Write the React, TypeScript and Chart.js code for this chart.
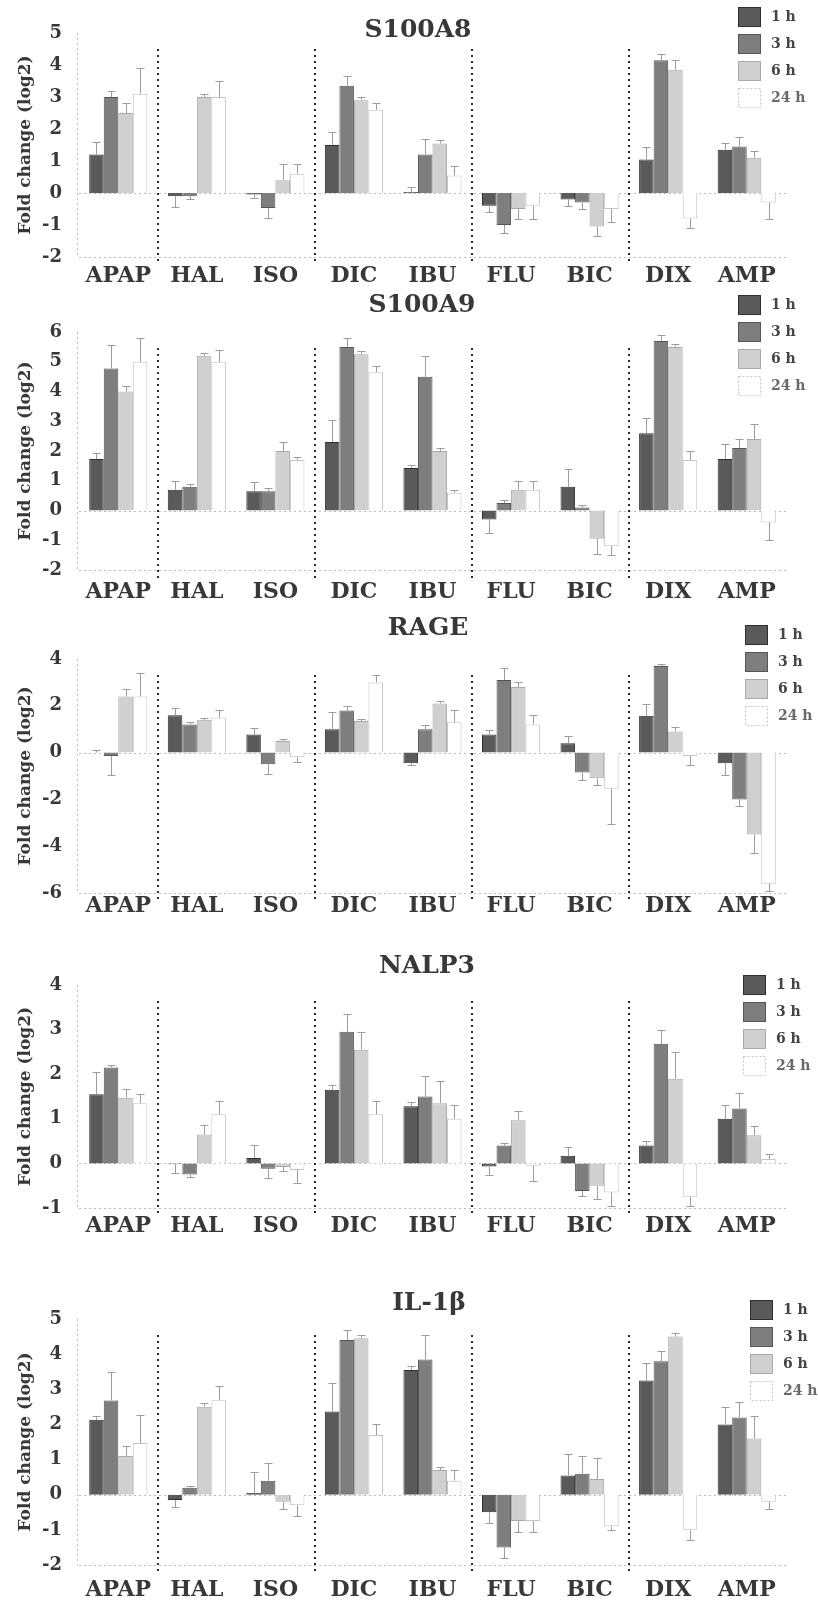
import React, { useEffect, useRef } from 'react';
import { Chart, registerables } from 'chart.js';

Chart.register(...registerables);

// ---------- data ----------
const CATEGORIES = ['APAP', 'HAL', 'ISO', 'DIC', 'IBU', 'FLU', 'BIC', 'DIX', 'AMP'];
const SERIES_LABELS = ['1 h', '3 h', '6 h', '24 h'];
const Y_TITLE = 'Fold change (log2)';

// S100A8
const a8_1h = [1.2, -0.1, -0.05, 1.5, 0.03, -0.4, -0.2, 1.05, 1.35];
const a8_3h = [3.0, -0.1, -0.47, 3.35, 1.2, -1.0, -0.3, 4.15, 1.45];
const a8_6h = [2.5, 3.0, 0.4, 2.9, 1.55, -0.5, -1.05, 3.85, 1.1];
const a8_24h = [3.1, 3.0, 0.6, 2.6, 0.55, -0.4, -0.5, -0.8, -0.3];
const a8_1hErr = [0.4, 0.35, 0.1, 0.4, 0.15, 0.2, 0.2, 0.4, 0.2];
const a8_3hErr = [0.2, 0.1, 0.3, 0.3, 0.5, 0.25, 0.2, 0.2, 0.3];
const a8_6hErr = [0.3, 0.1, 0.5, 0.1, 0.1, 0.3, 0.3, 0.3, 0.2];
const a8_24hErr = [0.8, 0.5, 0.3, 0.2, 0.3, 0.4, 0.4, 0.3, 0.5];

// S100A9
const a9_1h = [1.73, 0.7, 0.65, 2.3, 1.43, -0.3, 0.8, 2.6, 1.73];
const a9_3h = [4.77, 0.8, 0.65, 5.5, 4.5, 0.25, 0.1, 5.7, 2.1];
const a9_6h = [4.0, 5.2, 2.0, 5.25, 2.0, 0.7, -0.95, 5.5, 2.4];
const a9_24h = [5.0, 5.0, 1.7, 4.65, 0.6, 0.7, -1.2, 1.7, -0.4];
const a9_1hErr = [0.2, 0.3, 0.3, 0.75, 0.1, 0.45, 0.6, 0.5, 0.5];
const a9_3hErr = [0.8, 0.1, 0.1, 0.3, 0.7, 0.1, 0.1, 0.2, 0.3];
const a9_6hErr = [0.2, 0.1, 0.3, 0.1, 0.1, 0.3, 0.5, 0.1, 0.5];
const a9_24hErr = [0.8, 0.4, 0.1, 0.2, 0.1, 0.3, 0.3, 0.3, 0.6];

// RAGE
const rage_1h = [0.0, 1.6, 0.77, 1.0, -0.45, 0.77, 0.4, 1.57, -0.45];
const rage_3h = [-0.15, 1.2, -0.5, 1.8, 1.0, 3.1, -0.85, 3.7, -2.0];
const rage_6h = [2.4, 1.4, 0.5, 1.35, 2.1, 2.8, -1.1, 0.9, -3.5];
const rage_24h = [2.4, 1.5, -0.2, 3.0, 1.3, 1.2, -1.55, -0.15, -5.6];
const rage_1hErr = [0.1, 0.3, 0.3, 0.75, 0.1, 0.2, 0.3, 0.5, 0.5];
const rage_3hErr = [0.8, 0.1, 0.4, 0.2, 0.2, 0.5, 0.3, 0.1, 0.3];
const rage_6hErr = [0.3, 0.1, 0.1, 0.1, 0.1, 0.2, 0.3, 0.2, 0.8];
const rage_24hErr = [1.0, 0.3, 0.2, 0.3, 0.5, 0.4, 1.5, 0.4, 0.3];

// NALP3
const nalp_1h = [1.55, -0.02, 0.12, 1.65, 1.28, -0.07, 0.17, 0.4, 1.0];
const nalp_3h = [2.15, -0.25, -0.12, 2.95, 1.5, 0.4, -0.62, 2.68, 1.23];
const nalp_6h = [1.47, 0.65, -0.08, 2.55, 1.35, 0.97, -0.5, 1.9, 0.63];
const nalp_24h = [1.35, 1.1, -0.15, 1.1, 1.0, -0.05, -0.65, -0.75, 0.1];
const nalp_1hErr = [0.5, 0.2, 0.3, 0.1, 0.1, 0.2, 0.2, 0.1, 0.3];
const nalp_3hErr = [0.05, 0.05, 0.2, 0.4, 0.45, 0.05, 0.1, 0.3, 0.35];
const nalp_6hErr = [0.2, 0.2, 0.1, 0.4, 0.5, 0.2, 0.3, 0.6, 0.2];
const nalp_24hErr = [0.2, 0.3, 0.3, 0.3, 0.3, 0.35, 0.3, 0.2, 0.1];

// IL-1β
const il_1h = [2.13, -0.15, 0.05, 2.37, 3.55, -0.5, 0.55, 3.25, 2.0];
const il_3h = [2.68, 0.2, 0.4, 4.4, 3.85, -1.5, 0.6, 3.8, 2.2];
const il_6h = [1.1, 2.5, -0.2, 4.45, 0.7, -0.75, 0.45, 4.5, 1.6];
const il_24h = [1.47, 2.7, -0.3, 1.7, 0.4, -0.75, -0.9, -1.0, -0.2];
const il_1hErr = [0.1, 0.2, 0.6, 0.8, 0.1, 0.3, 0.6, 0.5, 0.5];
const il_3hErr = [0.8, 0.05, 0.5, 0.3, 0.7, 0.3, 0.5, 0.3, 0.45];
const il_6hErr = [0.3, 0.1, 0.2, 0.1, 0.1, 0.3, 0.6, 0.1, 0.65];
const il_24hErr = [0.8, 0.4, 0.3, 0.3, 0.3, 0.3, 0.1, 0.3, 0.2];

// ---------- styles / layout ----------
const FONT = "'DejaVu Serif', 'Liberation Serif', serif";
const TEXT = '#383838';
const FILLS = ['#5a5a5a', '#7e7e7e', '#d0d0d0', '#ffffff'];
const BORDERS = ['#2e2e2e', '#555555', '#a8a8a8', '#c4c4c4'];
const SEPARATOR_AFTER = [0, 2, 4, 6];

type PanelCfg = {
  title: string;
  top: number; height: number;
  chartTop: number; chartBottom: number;
  min: number; max: number; step: number;
  labelPad: number;
  titleX: number; titleY: number;
  legendX: number; legendY: number;
  series: number[][]; errors: number[][];
};

const PANELS: PanelCfg[] = [
  { title: 'S100A8', top: 0, height: 288, chartTop: 33, chartBottom: 257, min: -2, max: 5, step: 1, labelPad: 6,
    titleX: 418, titleY: 30, legendX: 738, legendY: 7,
    series: [a8_1h, a8_3h, a8_6h, a8_24h], errors: [a8_1hErr, a8_3hErr, a8_6hErr, a8_24hErr] },
  { title: 'S100A9', top: 288, height: 324, chartTop: 332, chartBottom: 570, min: -2, max: 6, step: 1, labelPad: 9,
    titleX: 422, titleY: 305, legendX: 738, legendY: 295,
    series: [a9_1h, a9_3h, a9_6h, a9_24h], errors: [a9_1hErr, a9_3hErr, a9_6hErr, a9_24hErr] },
  { title: 'RAGE', top: 612, height: 330, chartTop: 659, chartBottom: 893, min: -6, max: 4, step: 2, labelPad: 0,
    titleX: 428, titleY: 628, legendX: 745, legendY: 625,
    series: [rage_1h, rage_3h, rage_6h, rage_24h], errors: [rage_1hErr, rage_3hErr, rage_6hErr, rage_24hErr] },
  { title: 'NALP3', top: 942, height: 343, chartTop: 985, chartBottom: 1208, min: -1, max: 4, step: 1, labelPad: 5,
    titleX: 427, titleY: 966, legendX: 743, legendY: 975,
    series: [nalp_1h, nalp_3h, nalp_6h, nalp_24h], errors: [nalp_1hErr, nalp_3hErr, nalp_6hErr, nalp_24hErr] },
  { title: 'IL-1β', top: 1285, height: 320, chartTop: 1319, chartBottom: 1565, min: -2, max: 5, step: 1, labelPad: 12,
    titleX: 429, titleY: 1303, legendX: 750, legendY: 1300,
    series: [il_1h, il_3h, il_6h, il_24h], errors: [il_1hErr, il_3hErr, il_6hErr, il_24hErr] },
];

function makeOverlay(p: PanelCfg) {
  return {
    id: 'overlay',
    beforeDatasetsDraw(chart: any) {
      const { ctx, chartArea } = chart;
      const y = chart.scales.y;
      ctx.save();
      ctx.strokeStyle = '#bcbcbc';
      ctx.lineWidth = 1;
      ctx.setLineDash([2, 3]);
      for (const v of [0, p.min]) {
        const py = Math.round(y.getPixelForValue(v)) + 0.5;
        ctx.beginPath();
        ctx.moveTo(chartArea.left, py);
        ctx.lineTo(chartArea.right, py);
        ctx.stroke();
      }
      ctx.beginPath();
      ctx.moveTo(chartArea.left - 1.5, chartArea.top);
      ctx.lineTo(chartArea.left - 1.5, chartArea.bottom);
      ctx.stroke();
      ctx.restore();
    },
    afterDatasetsDraw(chart: any) {
      const { ctx, chartArea } = chart;
      const y = chart.scales.y;
      const x = chart.scales.x;
      ctx.save();
      ctx.strokeStyle = '#9c9c9c';
      ctx.lineWidth = 1;
      ctx.setLineDash([]);
      chart.data.datasets.forEach((ds: any, di: number) => {
        const meta = chart.getDatasetMeta(di);
        meta.data.forEach((bar: any, i: number) => {
          const v = ds.data[i];
          const e = p.errors[di][i];
          const end = v >= 0 ? v + e : v - e;
          const py0 = y.getPixelForValue(v);
          const py1 = Math.round(y.getPixelForValue(end)) + 0.5;
          const bx = Math.round(bar.x) + 0.5;
          ctx.beginPath();
          ctx.moveTo(bx, py0);
          ctx.lineTo(bx, py1);
          ctx.moveTo(bx - 4, py1);
          ctx.lineTo(bx + 4, py1);
          ctx.stroke();
        });
      });
      ctx.strokeStyle = '#2a2a2a';
      ctx.lineWidth = 2;
      ctx.setLineDash([2, 4]);
      for (const k of SEPARATOR_AFTER) {
        const xp = Math.round((x.getPixelForValue(k) + x.getPixelForValue(k + 1)) / 2);
        ctx.beginPath();
        ctx.moveTo(xp, chartArea.top + 16);
        ctx.lineTo(xp, chartArea.bottom + 8);
        ctx.stroke();
      }
      ctx.restore();
    },
    afterDraw(chart: any) {
      const { ctx, chartArea } = chart;
      ctx.save();
      ctx.fillStyle = TEXT;
      ctx.font = `bold 25px ${FONT}`;
      ctx.textAlign = 'center';
      ctx.textBaseline = 'middle';
      ctx.fillText(p.title, p.titleX, p.titleY - p.top);
      ctx.save();
      ctx.translate(26, (chartArea.top + chartArea.bottom) / 2);
      ctx.rotate(-Math.PI / 2);
      ctx.font = `bold 17px ${FONT}`;
      ctx.fillText(Y_TITLE, 0, 0);
      ctx.restore();
      ctx.font = `bold 14px ${FONT}`;
      ctx.textAlign = 'left';
      SERIES_LABELS.forEach((lab, i) => {
        const bx = p.legendX;
        const by = p.legendY - p.top + i * 27;
        ctx.fillStyle = FILLS[i];
        ctx.fillRect(bx, by, 23, 20);
        ctx.strokeStyle = BORDERS[i];
        ctx.lineWidth = 1;
        if (i === 3) ctx.setLineDash([2, 2]); else ctx.setLineDash([]);
        ctx.strokeRect(bx + 0.5, by + 0.5, 22, 19);
        ctx.setLineDash([]);
        ctx.fillStyle = i === 3 ? '#6a6a6a' : '#444';
        ctx.fillText(lab, bx + 33, by + 10);
      });
      ctx.restore();
    },
  };
}

function Panel({ p }: { p: PanelCfg }) {
  const ref = useRef<HTMLCanvasElement | null>(null);
  useEffect(() => {
    if (!ref.current) return;
    const chart = new Chart(ref.current, {
      type: 'bar',
      data: {
        labels: CATEGORIES,
        datasets: p.series.map((d, i) => ({
          label: SERIES_LABELS[i],
          data: d,
          backgroundColor: FILLS[i],
          borderColor: BORDERS[i],
          borderWidth: 1,
          categoryPercentage: 0.74,
          barPercentage: 1.0,
        })),
      },
      options: {
        animation: false,
        responsive: false,
        events: [],
        layout: { padding: { top: p.chartTop - p.top, right: 32, left: 0, bottom: 0 } },
        plugins: { legend: { display: false }, title: { display: false }, tooltip: { enabled: false } },
        scales: {
          x: {
            grid: { display: false, drawTicks: false },
            border: { display: false },
            ticks: { font: { family: FONT, size: 22, weight: 'bold' }, color: TEXT, padding: p.labelPad, maxRotation: 0, autoSkip: false },
            afterFit: (s: any) => { s.height = p.top + p.height - p.chartBottom; },
          },
          y: {
            min: p.min,
            max: p.max,
            ticks: { stepSize: p.step, font: { family: FONT, size: 18, weight: 'bold' }, color: TEXT, padding: 17 },
            grid: { display: false, drawTicks: false },
            border: { display: false },
            afterFit: (s: any) => { s.width = 79; },
          },
        },
      } as any,
      plugins: [makeOverlay(p)],
    });
    return () => chart.destroy();
  }, [p]);
  return (
    <canvas
      ref={ref}
      width={818}
      height={p.height}
      style={{ position: 'absolute', left: 0, top: p.top, width: 818, height: p.height }}
    />
  );
}

export default function App() {
  return (
    <div style={{ position: 'absolute', left: 0, top: 0, width: 818, height: 1605, background: '#fff' }}>
      {PANELS.map((p) => (
        <Panel key={p.title} p={p} />
      ))}
    </div>
  );
}
